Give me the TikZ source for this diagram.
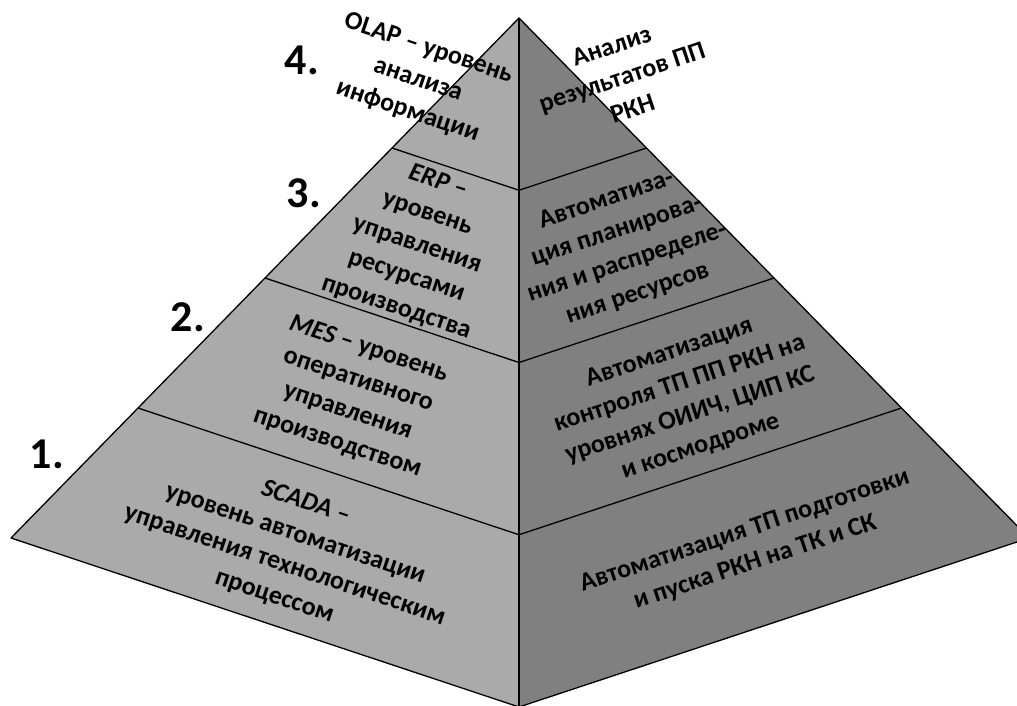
\documentclass[tikz,border=0pt]{standalone}
\usepackage{fontspec}
\setmainfont{Carlito}
\usetikzlibrary{calc}
\definecolor{faceleft}{RGB}{170,170,170}
\definecolor{faceright}{RGB}{128,128,128}
\begin{document}
\begin{tikzpicture}[x=1pt,y=-1pt,
  edge/.style={draw=black,line width=1.3pt,line join=round},
  lbl/.style={align=center,font=\bfseries\fontsize{26}{33}\selectfont,inner sep=0pt},
  lface/.style={lbl,rotate=-18.4},
  rface/.style={lbl,rotate=18.4},
  num/.style={font=\bfseries\fontsize{44}{44}\selectfont,inner sep=0pt}]
\clip (0,0) rectangle (1017,706);
% pyramid corners: apex, left, right, front
\coordinate (A) at (519,18);
\coordinate (L) at (11,538);
\coordinate (R) at (1029,538);
\coordinate (F) at (519,707);
% level boundaries on the three edges
\foreach \t/\n in {0.25/1,0.5/2,0.75/3}{
  \coordinate (L\n) at ($(A)!\t!(L)$);
  \coordinate (R\n) at ($(A)!\t!(R)$);
  \coordinate (F\n) at ($(A)!\t!(F)$);
}
% faces
\fill[faceleft] (A) -- (L) -- (F) -- cycle;
\fill[faceright] (A) -- (F) -- (R) -- cycle;
% level lines
\foreach \n in {1,2,3}{
  \draw[edge] (L\n) -- (F\n) -- (R\n);
}
% outline
\draw[edge] (L) -- (A) -- (R) -- (F) -- cycle;
\draw[edge] (A) -- (F);

% level texts, left face
\node[lface] (t4l) at (418,80) {OLAP – уровень\\анализа\\информации};
\node[lface] (t3l) at (417,245) {\itshape ERP –\\уровень\\управления\\ресурсами\\производства};
\node[lface] (t2l) at (353,396) {{\itshape MES} – уровень\\оперативного\\управления\\производством};
\node[lface] (t1l) at (290,550) {\itshape SCADA –\\уровень автоматизации\\управления технологическим\\процессом};
% level texts, right face
\node[rface] (t4r) at (622,77) {Анализ\\результатов ПП\\РКН};
\node[rface] (t3r) at (622,247) {Автоматиза-\\ция планирова-\\ния и распределе-\\ния ресурсов};
\node[rface] (t2r) at (685,400) {Автоматизация\\контроля ТП ПП РКН на\\уровнях ОИИЧ, ЦИП КС\\и космодроме};
\node[rface] (t1r) at (750,547) {Автоматизация ТП подготовки\\и пуска РКН на ТК и СК};
% level numbers
\node[num] (n4) at (302,60) {4.};
\node[num] (n3) at (304,193) {3.};
\node[num] (n2) at (188,317) {2.};
\node[num] (n1) at (47,454) {1.};
\end{tikzpicture}
\end{document}
